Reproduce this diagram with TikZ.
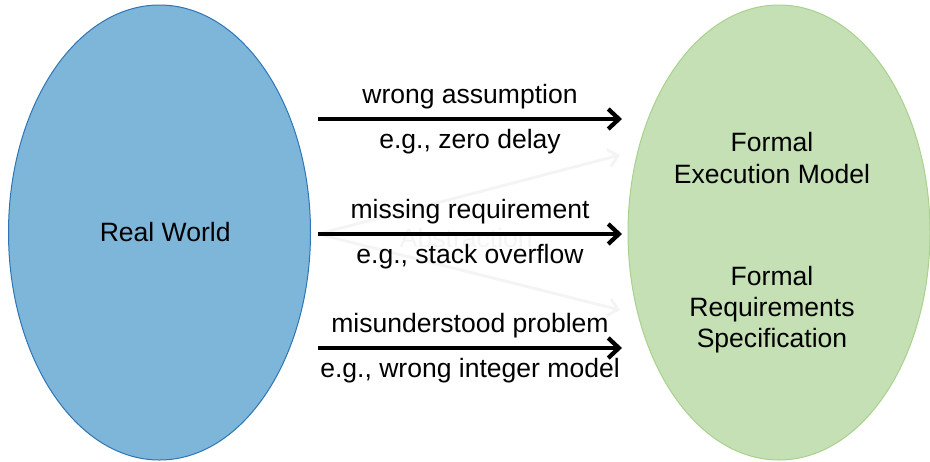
\documentclass[tikz,border=0pt]{standalone}
\usepackage{fontspec}
\setmainfont{Liberation Sans}
\usetikzlibrary{positioning, shapes.geometric, arrows.meta}
\definecolor{worldfill}{RGB}{126,182,218}
\definecolor{worldline}{RGB}{46,117,182}
\definecolor{formalfill}{RGB}{197,224,180}
\definecolor{formalline}{RGB}{169,209,142}
\definecolor{ghost}{RGB}{244,244,244}

\begin{document}
\begin{tikzpicture}[x = 0.75pt, y = -0.75pt,
    every node/.style = { font = \fontsize{19.9}{23.3}\selectfont, align = center },
    blob/.style = { shape = ellipse, minimum width = 226.5pt, minimum height = 341.25pt, inner sep = 0pt, line width = 0.75pt },
    flow/.style = { line width = 3.2pt, -{Straight Barb[length = 8pt, width = 15pt, line width = 3.2pt]} },
    fade/.style = { draw = ghost, line width = 2.2pt, -{Straight Barb[length = 7pt, width = 13pt]} },
    lbl/.style = { anchor = base }]
    \useasboundingbox (0,0) rectangle (930,461);

    \node [blob, fill = worldfill, draw = worldline] (world) at (159.5,232.5) { \hspace{14pt}Real World };
    \node [blob, fill = formalfill, draw = formalline] (formal) at (779,232.5) {};
    \node (exec) at (772,158) { Formal \\ Execution Model };
    \node (spec) at (772,310) { Formal \\ Requirements \\ Specification };

    % faint abstraction arrows
    \coordinate (src) at (318,234);
    \coordinate (hi) at (620,155);
    \coordinate (lo) at (620,310);
    \draw [fade] (src) -- (hi);
    \draw [fade] (src) -- (lo);
    \node [text = ghost] (abs) at (470,238) { Abstraction };

    % the three gaps
    \foreach \y/\name/\top/\bot in {119/a/wrong assumption/{e.g., zero delay},
                                    234/b/missing requirement/{e.g., stack overflow},
                                    348/c/misunderstood problem/{e.g., wrong integer model}} {
        \coordinate (\name-s) at (318,\y);
        \coordinate (\name-e) at (622,\y);
        \draw [flow] (\name-s) -- (\name-e)
            node [lbl, midway, yshift = 12pt] (\name-top) { \top }
            node [lbl, midway, yshift = -21.75pt] (\name-bot) { \bot };
    }
\end{tikzpicture}
\end{document}
